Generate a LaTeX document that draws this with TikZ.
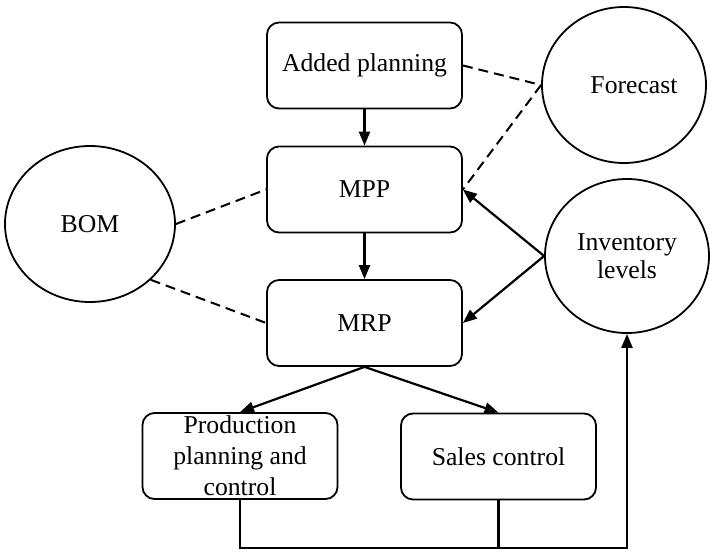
\documentclass[tikz,border=0pt]{standalone}
\usepackage{fontspec}
\setmainfont{Liberation Serif}
\usetikzlibrary{arrows.meta,shapes.geometric}

\tikzset{
  base/.style={font=\fontsize{25.7}{31}\selectfont, align=center, inner sep=0pt},
  box/.style={base, draw, line width=1.8pt, rounded corners=12pt,
    minimum width=195pt, minimum height=86pt},
  oval/.style={base, draw, ellipse, line width=1.8pt},
  link/.style={line width=2pt, dash pattern=on 10pt off 6pt},
  flow/.style={line width=2.2pt, -{Triangle[length=14pt,width=11pt]}},
  wire/.style={line width=2.2pt}
}

\begin{document}
\begin{tikzpicture}[x=1pt, y=-1pt]
  \useasboundingbox (0,0) rectangle (710,552);

  % planning chain
  \node[box] (add) at (364.5,65.5) {Added planning};
  \node[box] (mpp) at (364.5,189.5) {MPP};
  \node[box] (mrp) at (364.5,323) {MRP};
  \node[box] (ppc) at (240,456) {Production\\planning and\\control};
  \node[box] (sal) at (498.5,456.5) {Sales control};

  % data sources
  \node[oval, minimum width=170pt, minimum height=156pt] (bom) at (90,224) {BOM};
  \node[oval, minimum width=164pt, minimum height=156pt] (fc) at (624,85) {\hspace*{20pt}Forecast};
  \node[oval, minimum width=164pt, minimum height=154pt, font=\fontsize{25.7}{28}\selectfont] (inv) at (627,256) {Inventory\\levels};

  % information links
  \draw[link] (add.east) -- (fc.west);
  \draw[link] (fc.west) -- (mpp.east);
  \draw[link] (bom.east) -- (mpp.west);
  \draw[link] (bom.south east) -- (mrp.west);

  % material flow
  \draw[flow] (add) -- (mpp);
  \draw[flow] (mpp) -- (mrp);
  \draw[flow] (inv.west) -- (mpp.east);
  \draw[flow] (inv.west) -- (mrp.east);
  \draw[flow] (mrp.south) -- (ppc.north);
  \draw[flow] (mrp.south) -- (sal.north);

  % feedback to inventory
  \coordinate (base) at (0,548);
  \draw[flow] (ppc.south) |- (base -| inv.south) -- (inv.south);
  \draw[wire] (sal.south) -- (sal.south |- base);
\end{tikzpicture}
\end{document}
